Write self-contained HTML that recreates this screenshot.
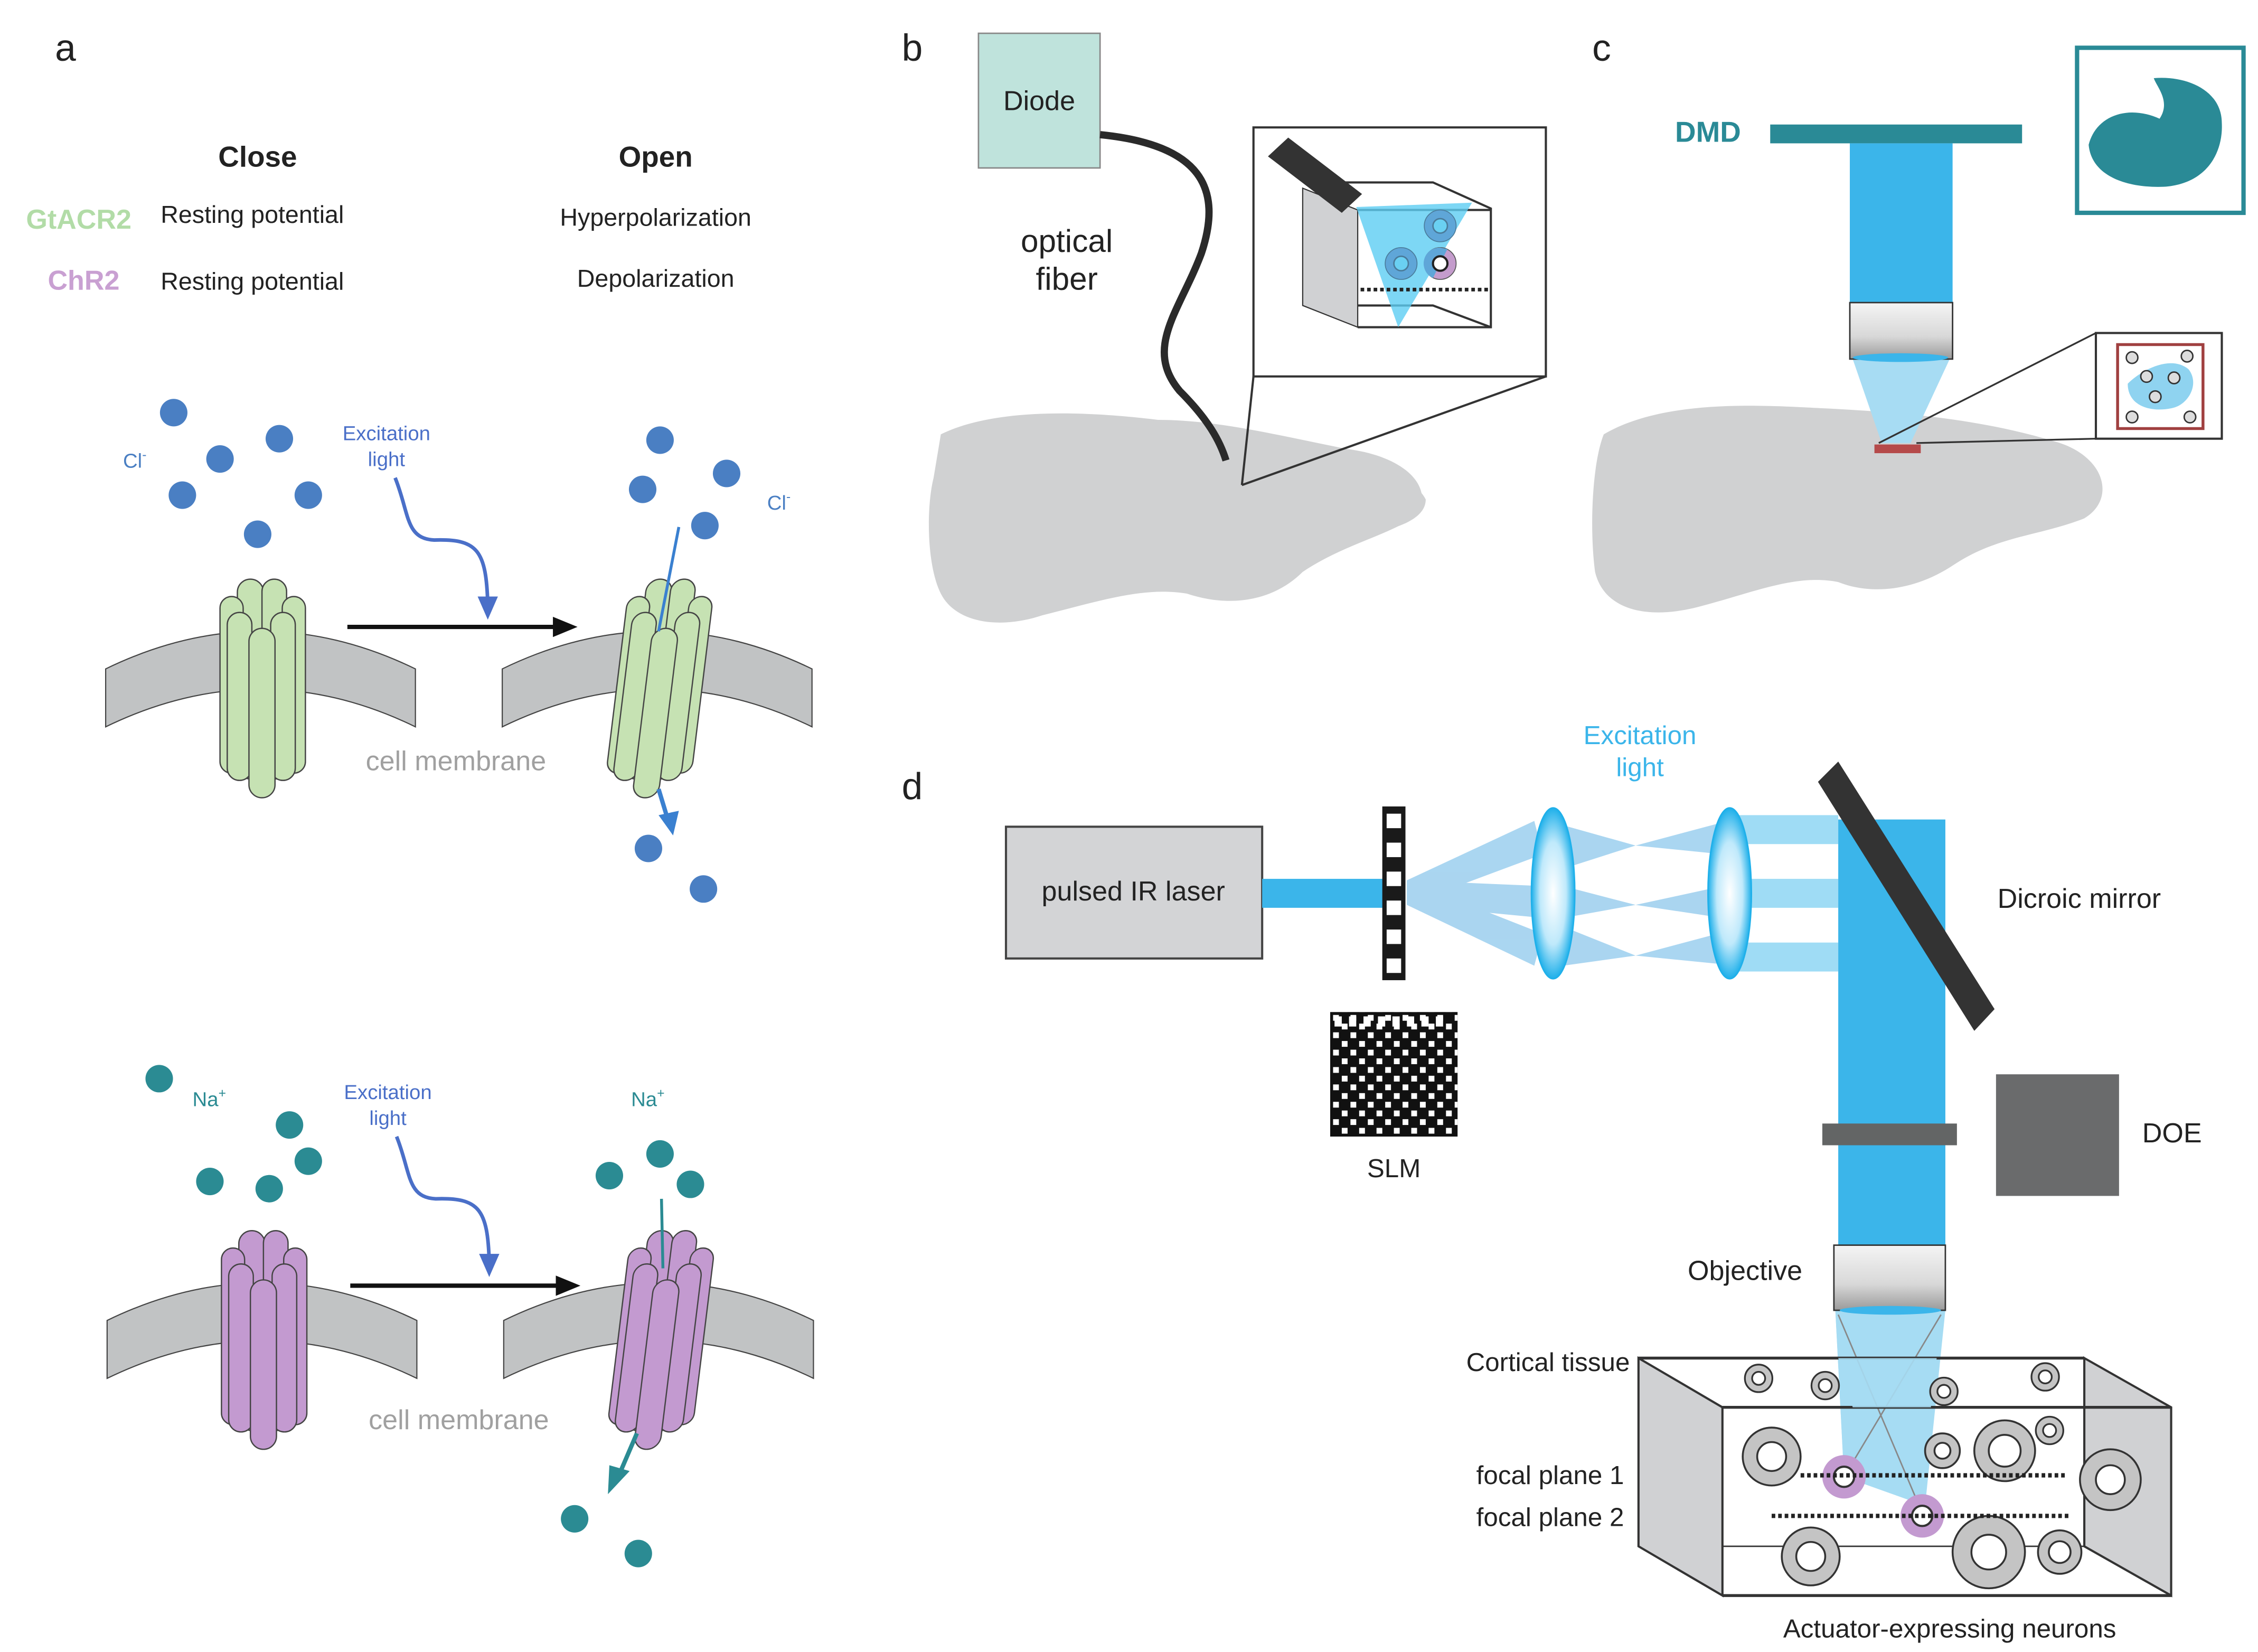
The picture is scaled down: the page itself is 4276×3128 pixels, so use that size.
<!DOCTYPE html>
<html><head><meta charset="utf-8"><style>
html,body{margin:0;padding:0;background:#fff;}
svg{display:block;}
text{font-family:"Liberation Sans",sans-serif;}
</style></head><body>
<svg width="4276" height="3128" viewBox="0 0 1560 1141" preserveAspectRatio="none" xmlns="http://www.w3.org/2000/svg">
<defs>
<linearGradient id="obj" x1="0" x2="0" y1="0" y2="1"><stop offset="0" stop-color="#f4f4f4"/><stop offset="0.6" stop-color="#d8d8d8"/><stop offset="1" stop-color="#9a9a9a"/></linearGradient>
<radialGradient id="lens" cx="0.5" cy="0.5" r="0.5"><stop offset="0" stop-color="#ffffff"/><stop offset="0.6" stop-color="#bfe9fb"/><stop offset="1" stop-color="#1fb0ea"/></radialGradient>
<g id="chan">
<rect x="164" y="400" width="18" height="138" rx="9"/>
<rect x="181" y="400" width="17" height="138" rx="8.5"/>
<rect x="152" y="412" width="16" height="122" rx="8"/>
<rect x="195" y="412" width="16" height="122" rx="8"/>
<rect x="157" y="423" width="17" height="116" rx="8.5"/>
<rect x="187" y="423" width="17" height="116" rx="8.5"/>
<rect x="172" y="434" width="18" height="117" rx="9"/>
</g>
<path id="mem" d="M73,462 Q180,410 287,462 L287,502 Q180,450 73,502 Z"/>
<g id="nsm"><circle r="9.5" fill="#c4c4c4" stroke="#333" stroke-width="1.2"/><circle r="4.5" fill="#fff" stroke="#333" stroke-width="1.2"/></g>
</defs>

<!-- PANEL A -->
<text x="38" y="42" font-size="26" fill="#222">a</text>
<text x="178" y="115" font-size="20" font-weight="bold" text-anchor="middle" fill="#222">Close</text>
<text x="453" y="115" font-size="20" font-weight="bold" text-anchor="middle" fill="#222">Open</text>
<text x="18" y="158" font-size="19" font-weight="bold" fill="#b2dca7">GtACR2</text>
<text x="111" y="154" font-size="17" fill="#222">Resting potential</text>
<text x="453" y="156" font-size="17" text-anchor="middle" fill="#222">Hyperpolarization</text>
<text x="33" y="200" font-size="19" font-weight="bold" fill="#c9a0d2">ChR2</text>
<text x="111" y="200" font-size="17" fill="#222">Resting potential</text>
<text x="453" y="198" font-size="17" text-anchor="middle" fill="#222">Depolarization</text>

<!-- top GtACR2 -->
<g fill="#4a7fc3">
<circle cx="120" cy="285" r="9.5"/><circle cx="193" cy="303" r="9.5"/><circle cx="152" cy="317" r="9.5"/>
<circle cx="126" cy="342" r="9.5"/><circle cx="213" cy="342" r="9.5"/><circle cx="178" cy="369" r="9.5"/>
<circle cx="456" cy="304" r="9.5"/><circle cx="502" cy="327" r="9.5"/><circle cx="444" cy="338" r="9.5"/>
<circle cx="487" cy="363" r="9.5"/><circle cx="448" cy="586" r="9.5"/><circle cx="486" cy="614" r="9.5"/>
</g>
<text x="85" y="323" font-size="14" fill="#4a7fc3">Cl<tspan font-size="9" dy="-6">-</tspan></text>
<text x="530" y="352" font-size="14" fill="#4a7fc3">Cl<tspan font-size="9" dy="-6">-</tspan></text>
<text x="267" y="304" font-size="14" text-anchor="middle" fill="#4a6fc8">Excitation</text>
<text x="267" y="322" font-size="14" text-anchor="middle" fill="#4a6fc8">light</text>
<path d="M273,330 C283,355 280,372 300,373 C330,372 336,380 337,418" fill="none" stroke="#4a6fc8" stroke-width="2.5"/>
<polygon points="330,412 344,412 337,428" fill="#4a6fc8"/>
<line x1="240" y1="433" x2="385" y2="433" stroke="#111" stroke-width="3"/>
<polygon points="382,426 399,433 382,440" fill="#111"/>
<use href="#mem" fill="#c1c3c4" stroke="#444" stroke-width="0.8"/>
<use href="#mem" transform="translate(274,0)" fill="#c1c3c4" stroke="#444" stroke-width="0.8"/>
<use href="#chan" fill="#c6e2b3" stroke="#444" stroke-width="0.9"/>
<g transform="translate(456,475) skewX(-7) translate(-182,-475)"><use href="#chan" fill="#c6e2b3" stroke="#444" stroke-width="0.9"/></g>
<line x1="469" y1="364" x2="455" y2="436" stroke="#3a80d0" stroke-width="2"/>
<path d="M455,545 L462,568" stroke="#3a80d0" stroke-width="3"/>
<polygon points="455,563 469,560 465,577" fill="#3a80d0"/>
<text x="315" y="532" font-size="19" text-anchor="middle" fill="#a0a0a0">cell membrane</text>

<!-- bottom ChR2 -->
<g fill="#2b8b93">
<circle cx="110" cy="745" r="9.5"/><circle cx="200" cy="777" r="9.5"/><circle cx="213" cy="802" r="9.5"/>
<circle cx="145" cy="816" r="9.5"/><circle cx="186" cy="821" r="9.5"/>
<circle cx="456" cy="797" r="9.5"/><circle cx="421" cy="812" r="9.5"/><circle cx="477" cy="818" r="9.5"/>
<circle cx="397" cy="1049" r="9.5"/><circle cx="441" cy="1073" r="9.5"/>
</g>
<text x="133" y="764" font-size="14" fill="#2b8b93">Na<tspan font-size="9" dy="-6">+</tspan></text>
<text x="436" y="764" font-size="14" fill="#2b8b93">Na<tspan font-size="9" dy="-6">+</tspan></text>
<text x="268" y="759" font-size="14" text-anchor="middle" fill="#4a6fc8">Excitation</text>
<text x="268" y="777" font-size="14" text-anchor="middle" fill="#4a6fc8">light</text>
<path d="M274,785 C284,810 281,827 301,828 C331,827 337,835 338,872" fill="none" stroke="#4a6fc8" stroke-width="2.5"/>
<polygon points="331,866 345,866 338,882" fill="#4a6fc8"/>
<line x1="242" y1="888" x2="387" y2="888" stroke="#111" stroke-width="3"/>
<polygon points="384,881 401,888 384,895" fill="#111"/>
<g transform="translate(1,450)">
<use href="#mem" fill="#c1c3c4" stroke="#444" stroke-width="0.8"/>
<use href="#mem" transform="translate(274,0)" fill="#c1c3c4" stroke="#444" stroke-width="0.8"/>
<use href="#chan" fill="#c39ad0" stroke="#444" stroke-width="0.9"/>
<g transform="translate(456,475) skewX(-7) translate(-182,-475)"><use href="#chan" fill="#c39ad0" stroke="#444" stroke-width="0.9"/></g>
</g>
<line x1="457" y1="828" x2="458" y2="876" stroke="#2b8b93" stroke-width="2"/>
<path d="M440,990 L428,1018" stroke="#2b8b93" stroke-width="3"/>
<polygon points="421,1012 435,1016 420,1032" fill="#2b8b93"/>
<text x="317" y="987" font-size="19" text-anchor="middle" fill="#a0a0a0">cell membrane</text>

<!-- PANEL B -->
<text x="623" y="42" font-size="26" fill="#222">b</text>
<path d="M650,300 C690,280 760,285 800,290 C840,290 880,300 930,310 C970,315 990,335 980,355 C960,370 930,375 900,395 C880,415 850,420 820,410 C790,405 760,415 720,425 C690,435 660,430 650,410 C640,390 640,350 645,330 Z" fill="#d0d1d2"/>
<path d="M900,330 C930,315 975,325 985,345 C985,360 960,368 930,370 Z" fill="#d0d1d2"/>
<rect x="676" y="23" width="84" height="93" fill="#bfe3dc" stroke="#888" stroke-width="1"/>
<text x="718" y="76" font-size="19" text-anchor="middle" fill="#222">Diode</text>
<path d="M760,93 C830,100 845,130 830,175 C815,215 790,240 815,270 C835,290 843,305 847,318" fill="none" stroke="#2a2a2a" stroke-width="5"/>
<text x="737" y="174" font-size="22" text-anchor="middle" fill="#222">optical</text>
<text x="737" y="200" font-size="22" text-anchor="middle" fill="#222">fiber</text>
<rect x="866" y="88" width="202" height="172" fill="#fff" stroke="#333" stroke-width="1.5"/>
<line x1="866" y1="260" x2="858" y2="335" stroke="#333" stroke-width="1.5"/>
<line x1="1068" y1="260" x2="858" y2="335" stroke="#333" stroke-width="1.5"/>
<!-- inset cube -->
<polygon points="900,130 900,211 938,226 938,145" fill="#d0d1d3" stroke="#333" stroke-width="0.8"/>
<polyline points="912,126 990,126 1030,144 1030,226 938,226" fill="none" stroke="#333" stroke-width="1.5"/>
<line x1="938" y1="145" x2="1030" y2="145" stroke="#333" stroke-width="1.5"/>
<polyline points="938,211 990,211 1030,226" fill="none" stroke="#333" stroke-width="1.5"/>
<polygon points="937,143 1017,140 966,226" fill="#5ccdf2" opacity="0.8"/>
<g fill="#5fa6d8" stroke="#4a7b9a" stroke-width="0.6"><circle cx="995" cy="156" r="11"/><circle cx="968" cy="182" r="11"/></g>
<circle cx="995" cy="182" r="11" fill="#c49ccc" stroke="#555" stroke-width="0.6"/>
<path d="M995,171 A11,11 0 0 0 990,192 L1000,172 Z" fill="#5fa6d8"/>
<g fill="#6ad0f2" stroke="#4a7b9a"><circle cx="995" cy="156" r="5"/><circle cx="968" cy="182" r="5"/></g>
<circle cx="995" cy="182" r="5" fill="#fff" stroke="#222" stroke-width="1.5"/>
<line x1="940" y1="200" x2="1028" y2="200" stroke="#222" stroke-width="2.5" stroke-dasharray="2.5,2"/>
<polygon points="876,108 890,95 941,134 927,147" fill="#333"/>

<!-- PANEL C -->
<text x="1100" y="42" font-size="26" fill="#222">c</text>
<path d="M1108,300 C1150,275 1220,280 1260,282 C1320,285 1370,290 1420,305 C1455,315 1462,345 1440,358 C1410,370 1380,370 1350,390 C1320,410 1290,410 1270,402 C1240,396 1210,410 1170,420 C1135,428 1108,420 1102,395 C1098,365 1100,320 1108,300 Z" fill="#d0d1d2"/>
<text x="1180" y="98" font-size="20" font-weight="bold" text-anchor="middle" fill="#2a8a96">DMD</text>
<rect x="1223" y="86" width="174" height="13" fill="#2a8a96"/>
<rect x="1278" y="99" width="71" height="112" fill="#3bb5ea"/>
<polygon points="1280,248 1347,248 1320,306 1300,306" fill="#a7dcf3"/>
<rect x="1278" y="209" width="71" height="39" fill="url(#obj)" stroke="#333" stroke-width="1"/>
<ellipse cx="1313" cy="247" rx="33" ry="3" fill="#3bb5ea"/>
<rect x="1295" y="307" width="32" height="6" fill="#b54a4a"/>
<line x1="1298" y1="306" x2="1448" y2="230" stroke="#333" stroke-width="1.2"/>
<line x1="1324" y1="306" x2="1448" y2="303" stroke="#333" stroke-width="1.2"/>
<rect x="1448" y="230" width="87" height="73" fill="#fff" stroke="#333" stroke-width="1.5"/>
<rect x="1463" y="238" width="59" height="58" fill="#fff" stroke="#a04040" stroke-width="2"/>
<path d="M1470,265 C1480,255 1500,245 1512,255 C1520,265 1512,280 1500,282 C1485,285 1470,280 1470,265 Z" fill="#8fd3f0"/>
<g fill="#ddd" stroke="#333" stroke-width="1"><circle cx="1473" cy="247" r="4"/><circle cx="1511" cy="246" r="4"/><circle cx="1483" cy="260" r="4"/><circle cx="1502" cy="261" r="4"/><circle cx="1489" cy="274" r="4"/><circle cx="1473" cy="288" r="4"/><circle cx="1513" cy="288" r="4"/></g>
<rect x="1435" y="33" width="115" height="114" fill="#fff" stroke="#2a8a96" stroke-width="3"/>
<path d="M1443,100 C1448,80 1470,72 1492,82 C1500,70 1490,60 1488,54 C1510,52 1535,62 1535,85 C1536,105 1525,127 1495,129 C1470,130 1445,122 1443,100 Z" fill="#2a8a96"/>

<!-- PANEL D -->
<text x="623" y="552" font-size="26" fill="#222">d</text>
<text x="1133" y="514" font-size="18" text-anchor="middle" fill="#3bb5ea">Excitation</text>
<text x="1133" y="536" font-size="18" text-anchor="middle" fill="#3bb5ea">light</text>
<rect x="695" y="571" width="177" height="91" fill="#d3d4d6" stroke="#444" stroke-width="1.5"/>
<text x="783" y="622" font-size="19" text-anchor="middle" fill="#222">pulsed IR laser</text>
<rect x="872" y="607" width="86" height="20" fill="#3bb5ea"/>
<!-- beamlets -->
<g fill="#8ec8ec" opacity="0.75">
<polygon points="972,608 1060,567 1066,590 972,625"/>
<polygon points="972,608 1066,612 1066,634 972,625"/>
<polygon points="972,608 1066,645 1060,667 972,625"/>
<polygon points="1080,570 1130,584 1190,568 1190,590 1130,584 1080,600"/>
<polygon points="1080,612 1130,625 1190,612 1190,634 1130,625 1080,634"/>
<polygon points="1080,640 1130,660 1190,644 1190,666 1130,660 1080,667"/>
</g>
<g fill="#9fdcf5">
<rect x="1200" y="563" width="70" height="20"/><rect x="1200" y="607" width="70" height="20"/><rect x="1200" y="651" width="70" height="20"/>
</g>
<rect x="955" y="557" width="16" height="120" fill="#1a1a1a"/>
<g fill="#fff"><rect x="958" y="562" width="10" height="10"/><rect x="958" y="582" width="10" height="10"/><rect x="958" y="602" width="10" height="10"/><rect x="958" y="622" width="10" height="10"/><rect x="958" y="642" width="10" height="10"/><rect x="958" y="662" width="10" height="10"/></g>
<ellipse cx="1073" cy="617" rx="15" ry="59" fill="url(#lens)" stroke="#1fb0ea" stroke-width="1"/>
<ellipse cx="1195" cy="617" rx="15" ry="59" fill="url(#lens)" stroke="#1fb0ea" stroke-width="1"/>
<rect x="1270" y="566" width="74" height="296" fill="#3bb5ea"/>
<polygon points="1256,540 1270,526 1378,697 1364,712" fill="#333"/>
<text x="1380" y="627" font-size="19" fill="#222">Dicroic mirror</text>
<rect x="1259" y="776" width="93" height="15" fill="#636565"/>
<rect x="1379" y="742" width="85" height="84" fill="#6a6b6c"/>
<text x="1480" y="789" font-size="19" fill="#222">DOE</text>
<!-- SLM checker -->
<rect x="919" y="699" width="88" height="86" fill="#111"/>
<g fill="#fff">
<rect x="922" y="702" width="5" height="7"/><rect x="932" y="702" width="5" height="7"/><rect x="942" y="702" width="5" height="7"/><rect x="952" y="702" width="5" height="7"/><rect x="962" y="702" width="5" height="7"/><rect x="972" y="702" width="5" height="7"/><rect x="982" y="702" width="5" height="7"/><rect x="992" y="702" width="5" height="7"/>
</g>
<pattern id="chk" x="919" y="699" width="12" height="12" patternUnits="userSpaceOnUse"><rect x="2" y="2" width="4" height="4" fill="#fff"/><rect x="8" y="8" width="4" height="4" fill="#fff"/></pattern>
<rect x="919" y="699" width="88" height="86" fill="url(#chk)"/>
<text x="963" y="813" font-size="18" text-anchor="middle" fill="#222">SLM</text>
<!-- objective -->
<polygon points="1268,905 1344,905 1330,1040 1274,1020" fill="#a6dcf3"/>
<polygon points="1300,950 1274,1020 1268,905" fill="#a6dcf3"/>
<line x1="1341" y1="908" x2="1274" y2="1020" stroke="#888" stroke-width="1"/>
<line x1="1270" y1="908" x2="1328" y2="1045" stroke="#888" stroke-width="1"/>
<rect x="1267" y="860" width="77" height="45" fill="url(#obj)" stroke="#333" stroke-width="1"/>
<ellipse cx="1306" cy="905" rx="35" ry="3" fill="#3bb5ea"/>
<text x="1166" y="884" font-size="19" fill="#222">Objective</text>
<!-- tissue box -->
<polygon points="1132,938 1190,972 1190,1102 1132,1068" fill="#d0d1d3" stroke="#333" stroke-width="1.5"/>
<polygon points="1440,938 1500,972 1500,1102 1440,1068" fill="#d0d1d3" stroke="#333" stroke-width="1.5"/>
<polygon points="1190,972 1440,972 1440,1068 1190,1068" fill="none" stroke="#333" stroke-width="1"/>
<line x1="1132" y1="938" x2="1440" y2="938" stroke="#333" stroke-width="2"/>
<line x1="1190" y1="972" x2="1500" y2="972" stroke="#333" stroke-width="2"/>
<line x1="1190" y1="1102" x2="1500" y2="1102" stroke="#333" stroke-width="2"/>
<polygon points="1270,938 1338,938 1334,972 1280,972" fill="#a6dcf3" opacity="0.9"/>
<use href="#nsm" x="1215" y="952"/><use href="#nsm" x="1261" y="957"/><use href="#nsm" x="1343" y="961"/><use href="#nsm" x="1413" y="951"/><use href="#nsm" x="1416" y="988"/>
<g stroke="#333" stroke-width="1.3">
<circle cx="1224" cy="1006" r="20" fill="#c4c4c4"/><circle cx="1224" cy="1006" r="10" fill="#fff"/>
<circle cx="1342" cy="1002" r="12" fill="#c4c4c4"/><circle cx="1342" cy="1002" r="5.5" fill="#fff"/>
<circle cx="1385" cy="1002" r="21" fill="#c4c4c4"/><circle cx="1385" cy="1002" r="11" fill="#fff"/>
<circle cx="1458" cy="1022" r="21" fill="#c4c4c4"/><circle cx="1458" cy="1022" r="10" fill="#fff"/>
<circle cx="1251" cy="1075" r="20" fill="#c4c4c4"/><circle cx="1251" cy="1075" r="10" fill="#fff"/>
<circle cx="1374" cy="1072" r="25" fill="#c4c4c4"/><circle cx="1374" cy="1072" r="12" fill="#fff"/>
<circle cx="1423" cy="1072" r="15" fill="#c4c4c4"/><circle cx="1423" cy="1072" r="7.5" fill="#fff"/>
</g>
<circle cx="1274" cy="1020" r="15" fill="#c39ad0"/><circle cx="1274" cy="1020" r="7" fill="#fff" stroke="#333" stroke-width="1.5"/>
<circle cx="1328" cy="1047" r="15" fill="#c39ad0"/><circle cx="1328" cy="1047" r="7" fill="#fff" stroke="#333" stroke-width="1.5"/>
<line x1="1244" y1="1019" x2="1428" y2="1019" stroke="#222" stroke-width="3" stroke-dasharray="2.5,2"/>
<line x1="1224" y1="1047" x2="1429" y2="1047" stroke="#222" stroke-width="3" stroke-dasharray="2.5,2"/>
<text x="1126" y="947" font-size="18" text-anchor="end" fill="#222">Cortical tissue</text>
<text x="1122" y="1025" font-size="18" text-anchor="end" fill="#222">focal plane 1</text>
<text x="1122" y="1054" font-size="18" text-anchor="end" fill="#222">focal plane 2</text>
<text x="1347" y="1131" font-size="18" text-anchor="middle" fill="#222">Actuator-expressing neurons</text>
</svg>
</body></html>
